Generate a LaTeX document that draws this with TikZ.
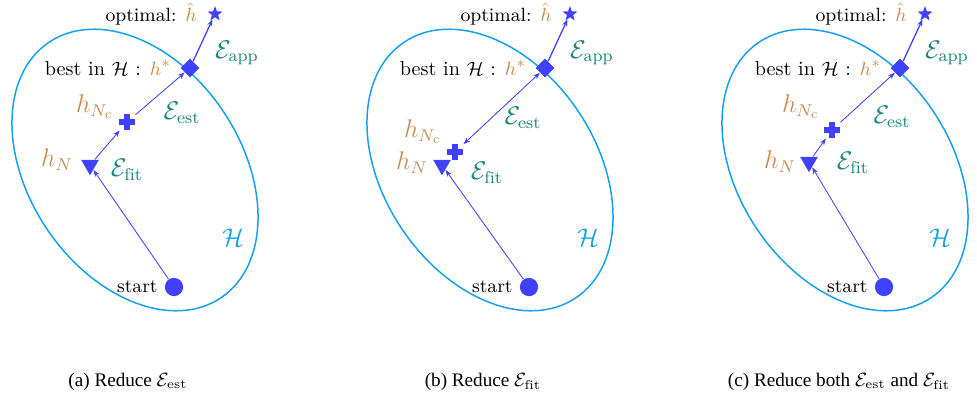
\documentclass[tikz,border=0pt]{standalone}
\usepackage{fontspec}
\newfontfamily\capfont{Liberation Serif}
\usepackage{amsmath,amssymb}
\usetikzlibrary{positioning, shapes.geometric, arrows.meta}
\definecolor{markblue}{RGB}{64,64,255}
\definecolor{hypcyan}{RGB}{20,160,240}
\definecolor{hypbrown}{RGB}{200,140,80}
\definecolor{errteal}{RGB}{25,135,125}
\tikzset{
  pt/.style={fill=markblue, inner sep=0pt},
  startpt/.style={pt, circle, minimum size=8.6pt},
  fitpt/.style={pt, regular polygon, regular polygon sides=3, shape border rotate=180, minimum size=9.6pt},
  cplpt/.style={inner sep=0pt, minimum size=7.6pt,
    path picture={\fill[markblue] (path picture bounding box.center) +(-3.8pt,-1.35pt) rectangle +(3.8pt,1.35pt);
                  \fill[markblue] (path picture bounding box.center) +(-1.35pt,-3.8pt) rectangle +(1.35pt,3.8pt);}},
  bestpt/.style={pt, diamond, minimum width=9pt, minimum height=9pt},
  optpt/.style={pt, star, star points=5, star point ratio=2.4, minimum size=7.4pt},
  hyp/.style={hypcyan, line width=0.7pt},
  conn/.style={->, >={Stealth[length=3.2pt, width=2.4pt]}, markblue, line width=0.4pt},
  tag/.style={font=\large, text=hypbrown, inner sep=1pt},
  err/.style={font=\large, text=errteal, inner sep=1pt},
  note/.style={font=\small, inner sep=1pt},
  bestnote/.style={font=\fontsize{9.5}{11}\selectfont, inner sep=1pt},
  capline/.style={font=\capfont\small, inner sep=0pt}
}
\begin{document}
\begin{tikzpicture}[x=0.47pt, y=0.47pt]
  \useasboundingbox (0,0) rectangle (977,-400);
  % (a)
  \begin{scope}
    \draw[hyp, rotate around={-56:(135,-170)}] (135,-170) ellipse (154 and 106); %仮説空間
    \node[startpt] (a-start) at (174,-287) {};
    \node[fitpt] (a-fit) at (90,-165) {};
    \node[cplpt] (a-cpl) at (127,-122) {};
    \node[bestpt] (a-best) at (190,-68) {};
    \node[optpt] (a-opt) at (215,-14) {};
    \node[note, left=2pt of a-start] (a-startlab) {start};
    \node[note, left=5pt of a-opt] (a-optlab) {optimal: {\color{hypbrown}$\hat{h}$}};
    \node[bestnote, left=3pt of a-best] (a-bestlab) {best in $\mathcal{H}$ : {\color{hypbrown}$h^*$}};
    \node[tag] (a-fitlab) at (57,-160) {$h_N$};
    \node[tag] (a-cpllab) at (95,-107) {$h_{N_{\mathrm{c}}}$};
    \node[err] (a-app) at (237,-53) {$\mathcal{E}_{\mathrm{app}}$};
    \node[err] (a-est) at (182,-113) {$\mathcal{E}_{\mathrm{est}}$};
    \node[err] (a-fiterr) at (127,-170) {$\mathcal{E}_{\mathrm{fit}}$};
    \node[tag, text=hypcyan] (a-hyp) at (233,-238) {$\mathcal{H}$};
    \draw[conn] (a-start) -- (a-fit);
    \draw[conn] (a-fit) -- (a-cpl);
    \draw[conn] (a-cpl) -- (a-best);
    \draw[conn, semithick] (a-best) -- (a-opt);
    \node[capline] (a-cap) at (128,-382) {(a) Reduce $\mathcal{E}_{\mathrm{est}}$};
  \end{scope}
  % (b)
  \begin{scope}[shift={(355,0)}]
    \draw[hyp, rotate around={-56:(135,-170)}] (135,-170) ellipse (154 and 106); %仮説空間
    \node[startpt] (b-start) at (174,-287) {};
    \node[fitpt] (b-fit) at (87,-165) {};
    \node[cplpt] (b-cpl) at (100,-152) {};
    \node[bestpt] (b-best) at (190,-68) {};
    \node[optpt] (b-opt) at (215,-14) {};
    \node[note, left=2pt of b-start] (b-startlab) {start};
    \node[note, left=5pt of b-opt] (b-optlab) {optimal: {\color{hypbrown}$\hat{h}$}};
    \node[bestnote, left=3pt of b-best] (b-bestlab) {best in $\mathcal{H}$ : {\color{hypbrown}$h^*$}};
    \node[tag] (b-fitlab) at (57,-163) {$h_N$};
    \node[tag] (b-cpllab) at (68,-132) {$h_{N_{\mathrm{c}}}$};
    \node[err] (b-app) at (237,-53) {$\mathcal{E}_{\mathrm{app}}$};
    \node[err] (b-est) at (168,-118) {$\mathcal{E}_{\mathrm{est}}$};
    \node[err] (b-fiterr) at (132,-173) {$\mathcal{E}_{\mathrm{fit}}$};
    \node[tag, text=hypcyan] (b-hyp) at (233,-238) {$\mathcal{H}$};
    \draw[conn] (b-start) -- (b-fit);
    \draw[conn, <->] (b-cpl) -- (b-best);
    \draw[conn, semithick] (b-best) -- (b-opt);
    \node[capline] (b-cap) at (128,-382) {(b) Reduce $\mathcal{E}_{\mathrm{fit}}$};
  \end{scope}
  % (c)
  \begin{scope}[shift={(710,0)}]
    \draw[hyp, rotate around={-56:(135,-170)}] (135,-170) ellipse (154 and 106); %仮説空間
    \node[startpt] (c-start) at (174,-287) {};
    \node[fitpt] (c-fit) at (99,-162) {};
    \node[cplpt] (c-cpl) at (122,-130) {};
    \node[bestpt] (c-best) at (190,-68) {};
    \node[optpt] (c-opt) at (215,-14) {};
    \node[note, left=2pt of c-start] (c-startlab) {start};
    \node[note, left=5pt of c-opt] (c-optlab) {optimal: {\color{hypbrown}$\hat{h}$}};
    \node[bestnote, left=3pt of c-best] (c-bestlab) {best in $\mathcal{H}$ : {\color{hypbrown}$h^*$}};
    \node[tag] (c-fitlab) at (70,-162) {$h_N$};
    \node[tag] (c-cpllab) at (91,-107) {$h_{N_{\mathrm{c}}}$};
    \node[err] (c-app) at (237,-53) {$\mathcal{E}_{\mathrm{app}}$};
    \node[err] (c-est) at (182,-117) {$\mathcal{E}_{\mathrm{est}}$};
    \node[err] (c-fiterr) at (143,-163) {$\mathcal{E}_{\mathrm{fit}}$};
    \node[tag, text=hypcyan] (c-hyp) at (230,-238) {$\mathcal{H}$};
    \draw[conn] (c-start) -- (c-fit);
    \draw[conn] (c-fit) -- (c-cpl);
    \draw[conn] (c-cpl) -- (c-best);
    \draw[conn, semithick] (c-best) -- (c-opt);
    \node[capline] (c-cap) at (129,-382) {(c) Reduce both $\mathcal{E}_{\mathrm{est}}$ and $\mathcal{E}_{\mathrm{fit}}$};
  \end{scope}
\end{tikzpicture}
\end{document}
